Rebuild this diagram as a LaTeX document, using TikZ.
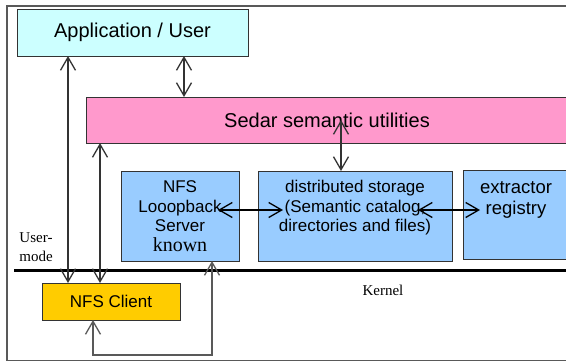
\documentclass[tikz,border=0pt]{standalone}
\usepackage{fontspec}
\setmainfont{Liberation Sans}
\newfontfamily\timesfont{Liberation Serif}
\usetikzlibrary{arrows.meta,calc}
\definecolor{appcyan}{HTML}{CCFFFF}
\definecolor{sedarpink}{HTML}{FF99CC}
\definecolor{storeblue}{HTML}{99CCFF}
\definecolor{clientgold}{HTML}{FFCC00}
\definecolor{framegray}{HTML}{595959}
\definecolor{edgegray}{HTML}{333333}
\begin{document}
\begin{tikzpicture}[x=1pt,y=-1pt,
  box/.style={draw=edgegray, line width=1pt, anchor=north west, inner sep=0pt, outer sep=0pt},
  barb/.tip={Straight Barb[length=13pt,width=15pt]},
  link/.style={draw=edgegray, line width=1.3pt, barb-barb},
  sans17/.style={font=\fontsize{17}{19.5}\selectfont, align=center},
  serif15/.style={font=\timesfont\fontsize{15}{18.5}\selectfont, align=center}
]
\useasboundingbox (0,0) rectangle (566,360);
\clip (0,0) rectangle (566,360);

% outer frame
\draw[framegray, line width=2pt] (7,6) rectangle (600,360.5);

% boxes
\node[box, fill=appcyan, minimum width=231pt, minimum height=47pt,
      font=\fontsize{20}{22}\selectfont] (app) at (17,9) {Application / User};
\node[box, fill=sedarpink, minimum width=482pt, minimum height=46pt,
      font=\fontsize{20}{22}\selectfont] (sedar) at (86,97) {Sedar semantic utilities};
\node[box, fill=storeblue, minimum width=118pt, minimum height=90pt] (loop) at (121,171) {};
\node[box, fill=storeblue, minimum width=194pt, minimum height=90pt] (dist) at (258,171) {};
\node[box, fill=storeblue, minimum width=106pt, minimum height=89pt] (extr) at (463,170) {};
\node[box, fill=clientgold, minimum width=138pt, minimum height=37pt,
      font=\fontsize{17}{19}\selectfont] (client) at (42,283) {NFS Client};

% box texts
\node[sans17] (looplbl) at (180,216) {NFS\\Looopback\\Server\\{\timesfont\fontsize{20}{21}\selectfont known}};
\node[sans17] (distlbl) at (355,208) {distributed storage\\(Semantic catalog,\\directories and files)};
\node[font=\fontsize{18.5}{21}\selectfont, align=center] (extrlbl) at (516,199.5) {extractor\\registry};

% user / kernel boundary
\coordinate (kl) at (14,270);
\coordinate (kr) at (570,270);
\draw[black, line width=3pt] (kl) -- (kr);
\node[serif15] (usermode) at (36,247) {User-\\mode};
\node[font=\timesfont\fontsize{15}{17}\selectfont] (kernel) at (383,290) {Kernel};

% column references
\coordinate (c68) at (68,0);
\coordinate (c100) at (100,0);
\coordinate (c184) at (184,0);
\coordinate (c341) at (341,0);
\coordinate (sedarin) at (341,120);
\coordinate (loopin) at (218,210);
\coordinate (distinl) at (283,210);
\coordinate (distinr) at (418,210);
\coordinate (extrin) at (480,210);
\coordinate (lb) at (93,355);
\coordinate (rb) at (212,355);

% connectors
\draw[link] (app.south -| c68) -- (client.north -| c68);
\draw[link] (sedar.south -| c100) -- (client.north -| c100);
\draw[link] (app.south -| c184) -- (sedar.north -| c184);
\draw[link] (sedarin) -- (dist.north -| sedarin);
\draw[link, draw=black] (loopin) -- (distinl);
\draw[link, draw=black] (distinr) -- (extrin);
\draw[link, draw=framegray] (loop.south -| rb) -- (rb) -- (lb) -- (client.south -| lb);
\end{tikzpicture}
\end{document}
